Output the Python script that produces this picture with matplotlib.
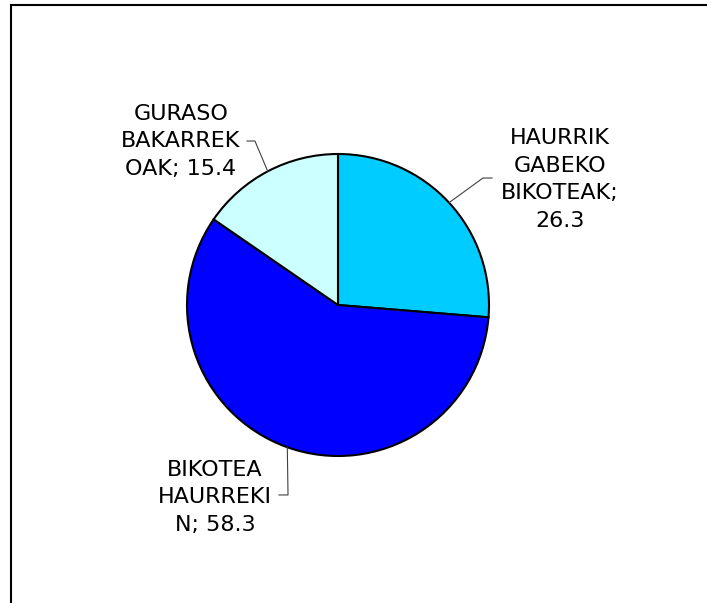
import numpy as np
import matplotlib.pyplot as plt
from matplotlib.lines import Line2D

# data
categories = ["HAURRIK GABEKO BIKOTEAK", "BIKOTEA HAURREKIN", "GURASO BAKARREKOAK"]
values = [26.3, 58.3, 15.4]
colors = ["#00CCFF", "#0000FF", "#CCFFFF"]
# wrapped the same way as the original labels
label_fmt = ["HAURRIK\nGABEKO\nBIKOTEAK;\n{:.1f}",
             "BIKOTEA\nHAURREKI\nN; {:.1f}",
             "GURASO\nBAKARREK\nOAK; {:.1f}"]

# layout (pie units, radius = 1)
label_pos = [(1.47, 0.831), (-0.815, -1.272), (-1.04, 1.083)]
elbow = [[(0.96, 0.841), (1.02, 0.841)],
         [(-0.331, -1.258), (-0.391, -1.258)],
         [(-0.55, 1.086), (-0.603, 1.086)]]

W, H = 707, 603
fig = plt.figure(figsize=(W / 100, H / 100), dpi=100)
fig.patch.set_facecolor("white")

# outer frame (only top and left edges are visible in the original)
fx, fy = 10.5 / W, 1 - 4.5 / H
fig.add_artist(Line2D([fx, 1.0], [fy, fy], color="black", lw=1.5, transform=fig.transFigure))
fig.add_artist(Line2D([fx, fx], [fy, 0.0], color="black", lw=1.5, transform=fig.transFigure))

cx, cy, r = 338, 305, 151
ax = fig.add_axes([(cx - r) / W, (H - cy - r) / H, 2 * r / W, 2 * r / H])
wedges, _ = ax.pie(values, colors=colors, startangle=90, counterclock=False,
                   radius=1, wedgeprops=dict(edgecolor="black", linewidth=1.5, clip_on=False))
ax.set_xlim(-1, 1)
ax.set_ylim(-1, 1)
ax.set_aspect("auto")
ax.axis("off")

for w, v, fmt, (lx, ly), pts in zip(wedges, values, label_fmt, label_pos, elbow):
    ang = np.deg2rad((w.theta1 + w.theta2) / 2)
    xs = [np.cos(ang)] + [p[0] for p in pts]
    ys = [np.sin(ang)] + [p[1] for p in pts]
    ax.plot(xs, ys, color="#404040", lw=0.8, clip_on=False)
    ax.text(lx, ly, fmt.format(v), ha="center", va="center", fontsize=16,
            family="DejaVu Sans", linespacing=1.47, color="black", clip_on=False)

fig.savefig("out.png", dpi=100, facecolor="white")
